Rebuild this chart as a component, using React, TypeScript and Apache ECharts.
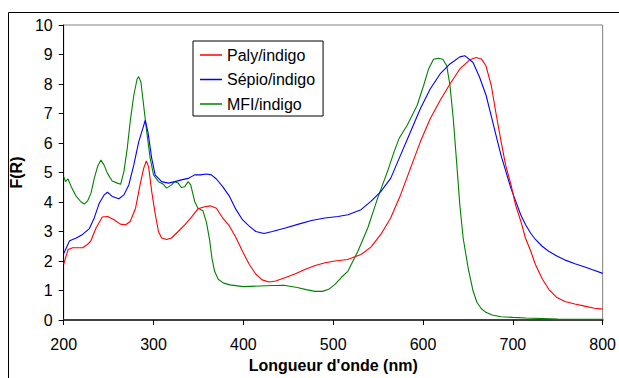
import React, { useEffect, useRef } from "react";
import * as echarts from "echarts";

const seriesNames = ["Paly/indigo", "Sépio/indigo", "MFI/indigo"];
const seriesColors = ["#ff0000", "#0000ff", "#008000"];

const palyIndigo: number[][] = [
  [200, 1.89], [203, 2.2], [205, 2.39], [210, 2.45], [215, 2.45], [221, 2.45], [226, 2.55], [230, 2.67],
  [236, 3.12], [243, 3.49], [249, 3.51], [256, 3.4], [263, 3.25], [269, 3.23], [274, 3.34], [280, 3.79],
  [285, 4.58], [289, 5.14], [292, 5.39], [294.5, 5.2], [298, 4.35], [302, 3.57], [305.5, 3.0], [309, 2.78],
  [314.6, 2.73], [320, 2.78], [327.5, 3.0], [335, 3.23], [342, 3.48], [349.5, 3.77], [357, 3.84], [363, 3.87],
  [370, 3.79], [377, 3.46], [384.6, 3.18], [392, 2.78], [399, 2.33], [406.5, 1.89], [414, 1.55], [421, 1.36],
  [428.5, 1.29], [436, 1.32], [447, 1.44], [458, 1.57], [469, 1.72], [480, 1.85], [491, 1.94], [502, 2.0],
  [516, 2.05], [531, 2.22], [542, 2.47], [553, 2.9], [564, 3.46], [575, 4.24], [586, 5.14], [597, 6.04],
  [608, 6.82], [619, 7.44], [630, 8.0], [641, 8.51], [652, 8.82], [659, 8.9], [665, 8.85], [670, 8.62],
  [676, 7.95], [681, 7.05], [687, 6.04], [692, 5.25], [698, 4.58], [703, 3.9], [709, 3.34], [714, 2.78],
  [720, 2.33], [725, 1.89], [733, 1.38], [740, 1.04], [749, 0.76], [758, 0.63], [769, 0.54], [780, 0.47],
  [791, 0.4], [800, 0.37],
];

const sepioIndigo: number[][] = [
  [200, 2.25], [203, 2.45], [206.6, 2.69], [214, 2.78], [221, 2.9], [228.6, 3.1], [234, 3.46], [239.6, 3.96],
  [245, 4.24], [248.7, 4.33], [254, 4.19], [261.5, 4.11], [267, 4.24], [272.5, 4.58], [278, 5.25], [283.5, 6.04],
  [288, 6.49], [290.8, 6.77], [293.8, 6.37], [298, 5.48], [301.8, 4.92], [309, 4.69], [316.5, 4.64], [323.8, 4.69],
  [331, 4.75], [338.5, 4.8], [345.8, 4.92], [352, 4.92], [359, 4.95], [364.4, 4.92], [370, 4.78], [377, 4.52],
  [384.6, 4.19], [391.9, 3.74], [399, 3.4], [406.5, 3.18], [413.9, 3.0], [423, 2.93], [432.2, 3.0], [446.8, 3.12],
  [461.5, 3.25], [476, 3.37], [490.8, 3.46], [505.4, 3.51], [516.4, 3.57], [531, 3.74], [542, 4.02], [553, 4.35],
  [564, 4.8], [575, 5.59], [586, 6.37], [597, 7.16], [608, 7.83], [619, 8.34], [630, 8.68], [641, 8.92],
  [646.5, 8.96], [655.7, 8.73], [663, 8.23], [670.3, 7.61], [675.8, 6.94], [681.3, 6.26], [686.8, 5.59],
  [692.3, 5.03], [697.8, 4.47], [703.3, 4.02], [708.8, 3.57], [714.2, 3.23], [719.7, 2.95], [725.2, 2.73],
  [732.6, 2.5], [739.9, 2.33], [749, 2.17], [758.2, 2.03], [769.2, 1.91], [780.2, 1.8], [791.2, 1.68], [800, 1.58],
];

const mfiIndigo: number[][] = [
  [200, 4.86], [202, 4.69], [204.8, 4.78], [208.4, 4.52], [214, 4.19], [219.4, 4.0], [223, 3.93], [226.7, 4.04],
  [230.4, 4.3], [234, 4.8], [237.7, 5.2], [241.4, 5.42], [245, 5.25], [248.7, 4.97], [254, 4.71], [259.7, 4.64],
  [263.4, 4.6], [267, 5.03], [270.7, 5.81], [274.4, 6.82], [278, 7.61], [281.7, 8.17], [283.5, 8.25], [286, 8.06],
  [289, 7.27], [292.5, 6.37], [296.3, 5.48], [300, 4.92], [305.5, 4.69], [311, 4.6], [314.6, 4.47], [320, 4.58],
  [323.8, 4.69], [327.5, 4.64], [331, 4.49], [334.8, 4.52], [338.5, 4.69], [341.4, 4.58], [345.8, 4.02],
  [349.5, 3.79], [355, 3.7], [359, 3.3], [362.5, 2.7], [365, 2.1], [368, 1.65], [372, 1.38], [378, 1.25],
  [385, 1.19], [400, 1.13], [425, 1.16], [445, 1.18], [460, 1.1], [470, 1.03], [480, 0.97], [488, 0.97],
  [495, 1.04], [502, 1.21], [509, 1.44], [516.5, 1.66], [527.5, 2.33], [538.5, 3.12], [549.5, 4.13],
  [560.4, 5.03], [567.8, 5.7], [573.3, 6.15], [582.4, 6.6], [593.4, 7.27], [600.7, 7.95], [606.2, 8.51],
  [611.7, 8.84], [617.2, 8.87], [622, 8.84], [626.4, 8.62], [630, 7.95], [633.7, 6.82], [637.4, 5.36],
  [641, 3.9], [644.7, 2.78], [650.2, 1.77], [655.7, 0.99], [660, 0.6], [665, 0.38], [670, 0.26], [677, 0.17],
  [687, 0.11], [700, 0.09], [715, 0.07], [750, 0.03], [800, 0.02],
];

const xTitle = "Longueur d'onde (nm)";
const yTitle = "F(R)";

const FONT = "'Liberation Sans', Arial, sans-serif";

export default function App() {
  const ref = useRef<HTMLDivElement>(null);
  useEffect(() => {
    if (!ref.current) return;
    const chart = echarts.init(ref.current, null, { renderer: "svg" });
    const allData = [palyIndigo, sepioIndigo, mfiIndigo];
    chart.setOption({
      animation: false,
      backgroundColor: "#ffffff",
      textStyle: { fontFamily: FONT },
      grid: {
        left: 62,
        right: 11,
        top: 25,
        bottom: 55,
        show: true,
        borderColor: "#808080",
        borderWidth: 1,
        backgroundColor: "transparent",
      },
      graphic: [
        {
          type: "line",
          shape: { x1: 8.5, y1: 12.5, x2: 619, y2: 12.5 },
          style: { stroke: "#000000", lineWidth: 1 },
          silent: true,
        },
        {
          type: "line",
          shape: { x1: 8.5, y1: 12.5, x2: 8.5, y2: 378 },
          style: { stroke: "#000000", lineWidth: 1 },
          silent: true,
        },
      ],
      legend: {
        orient: "vertical",
        left: 193,
        top: 41,
        padding: [6, 8, 4, 7],
        icon: "rect",
        itemWidth: 22,
        itemHeight: 1.5,
        itemGap: 8.5,
        borderColor: "#000000",
        borderWidth: 1,
        backgroundColor: "#ffffff",
        textStyle: { fontFamily: FONT, fontSize: 16, color: "#000000" },
        data: seriesNames,
      },
      xAxis: {
        type: "value",
        min: 200,
        max: 800,
        interval: 100,
        name: xTitle,
        nameLocation: "middle",
        nameGap: 37,
        nameTextStyle: { fontFamily: FONT, fontSize: 16, fontWeight: "bold", color: "#000000" },
        axisLine: { show: true, lineStyle: { color: "#404040", width: 2 } },
        axisTick: { show: true, length: 5, lineStyle: { color: "#000000" } },
        axisLabel: { margin: 16, fontFamily: FONT, fontSize: 16, color: "#000000" },
        splitLine: { show: false },
      },
      yAxis: {
        type: "value",
        min: 0,
        max: 10,
        interval: 1,
        name: yTitle,
        nameLocation: "middle",
        nameGap: 24,
        nameTextStyle: { fontFamily: FONT, fontSize: 16, fontWeight: "bold", color: "#000000" },
        axisLine: { show: true, lineStyle: { color: "#000000", width: 1 } },
        axisTick: { show: true, length: 5, lineStyle: { color: "#000000" } },
        axisLabel: { margin: 11, fontFamily: FONT, fontSize: 16, color: "#000000" },
        splitLine: { show: false },
      },
      series: seriesNames.map((name, i) => ({
        name,
        type: "line",
        data: allData[i],
        symbol: "none",
        smooth: false,
        lineStyle: { color: seriesColors[i], width: 1.1 },
        itemStyle: { color: seriesColors[i] },
        z: 3 - i,
      })),
    });
    return () => chart.dispose();
  }, []);
  return <div ref={ref} style={{ width: 619, height: 378, position: "absolute", left: 0, top: 0 }} />;
}
